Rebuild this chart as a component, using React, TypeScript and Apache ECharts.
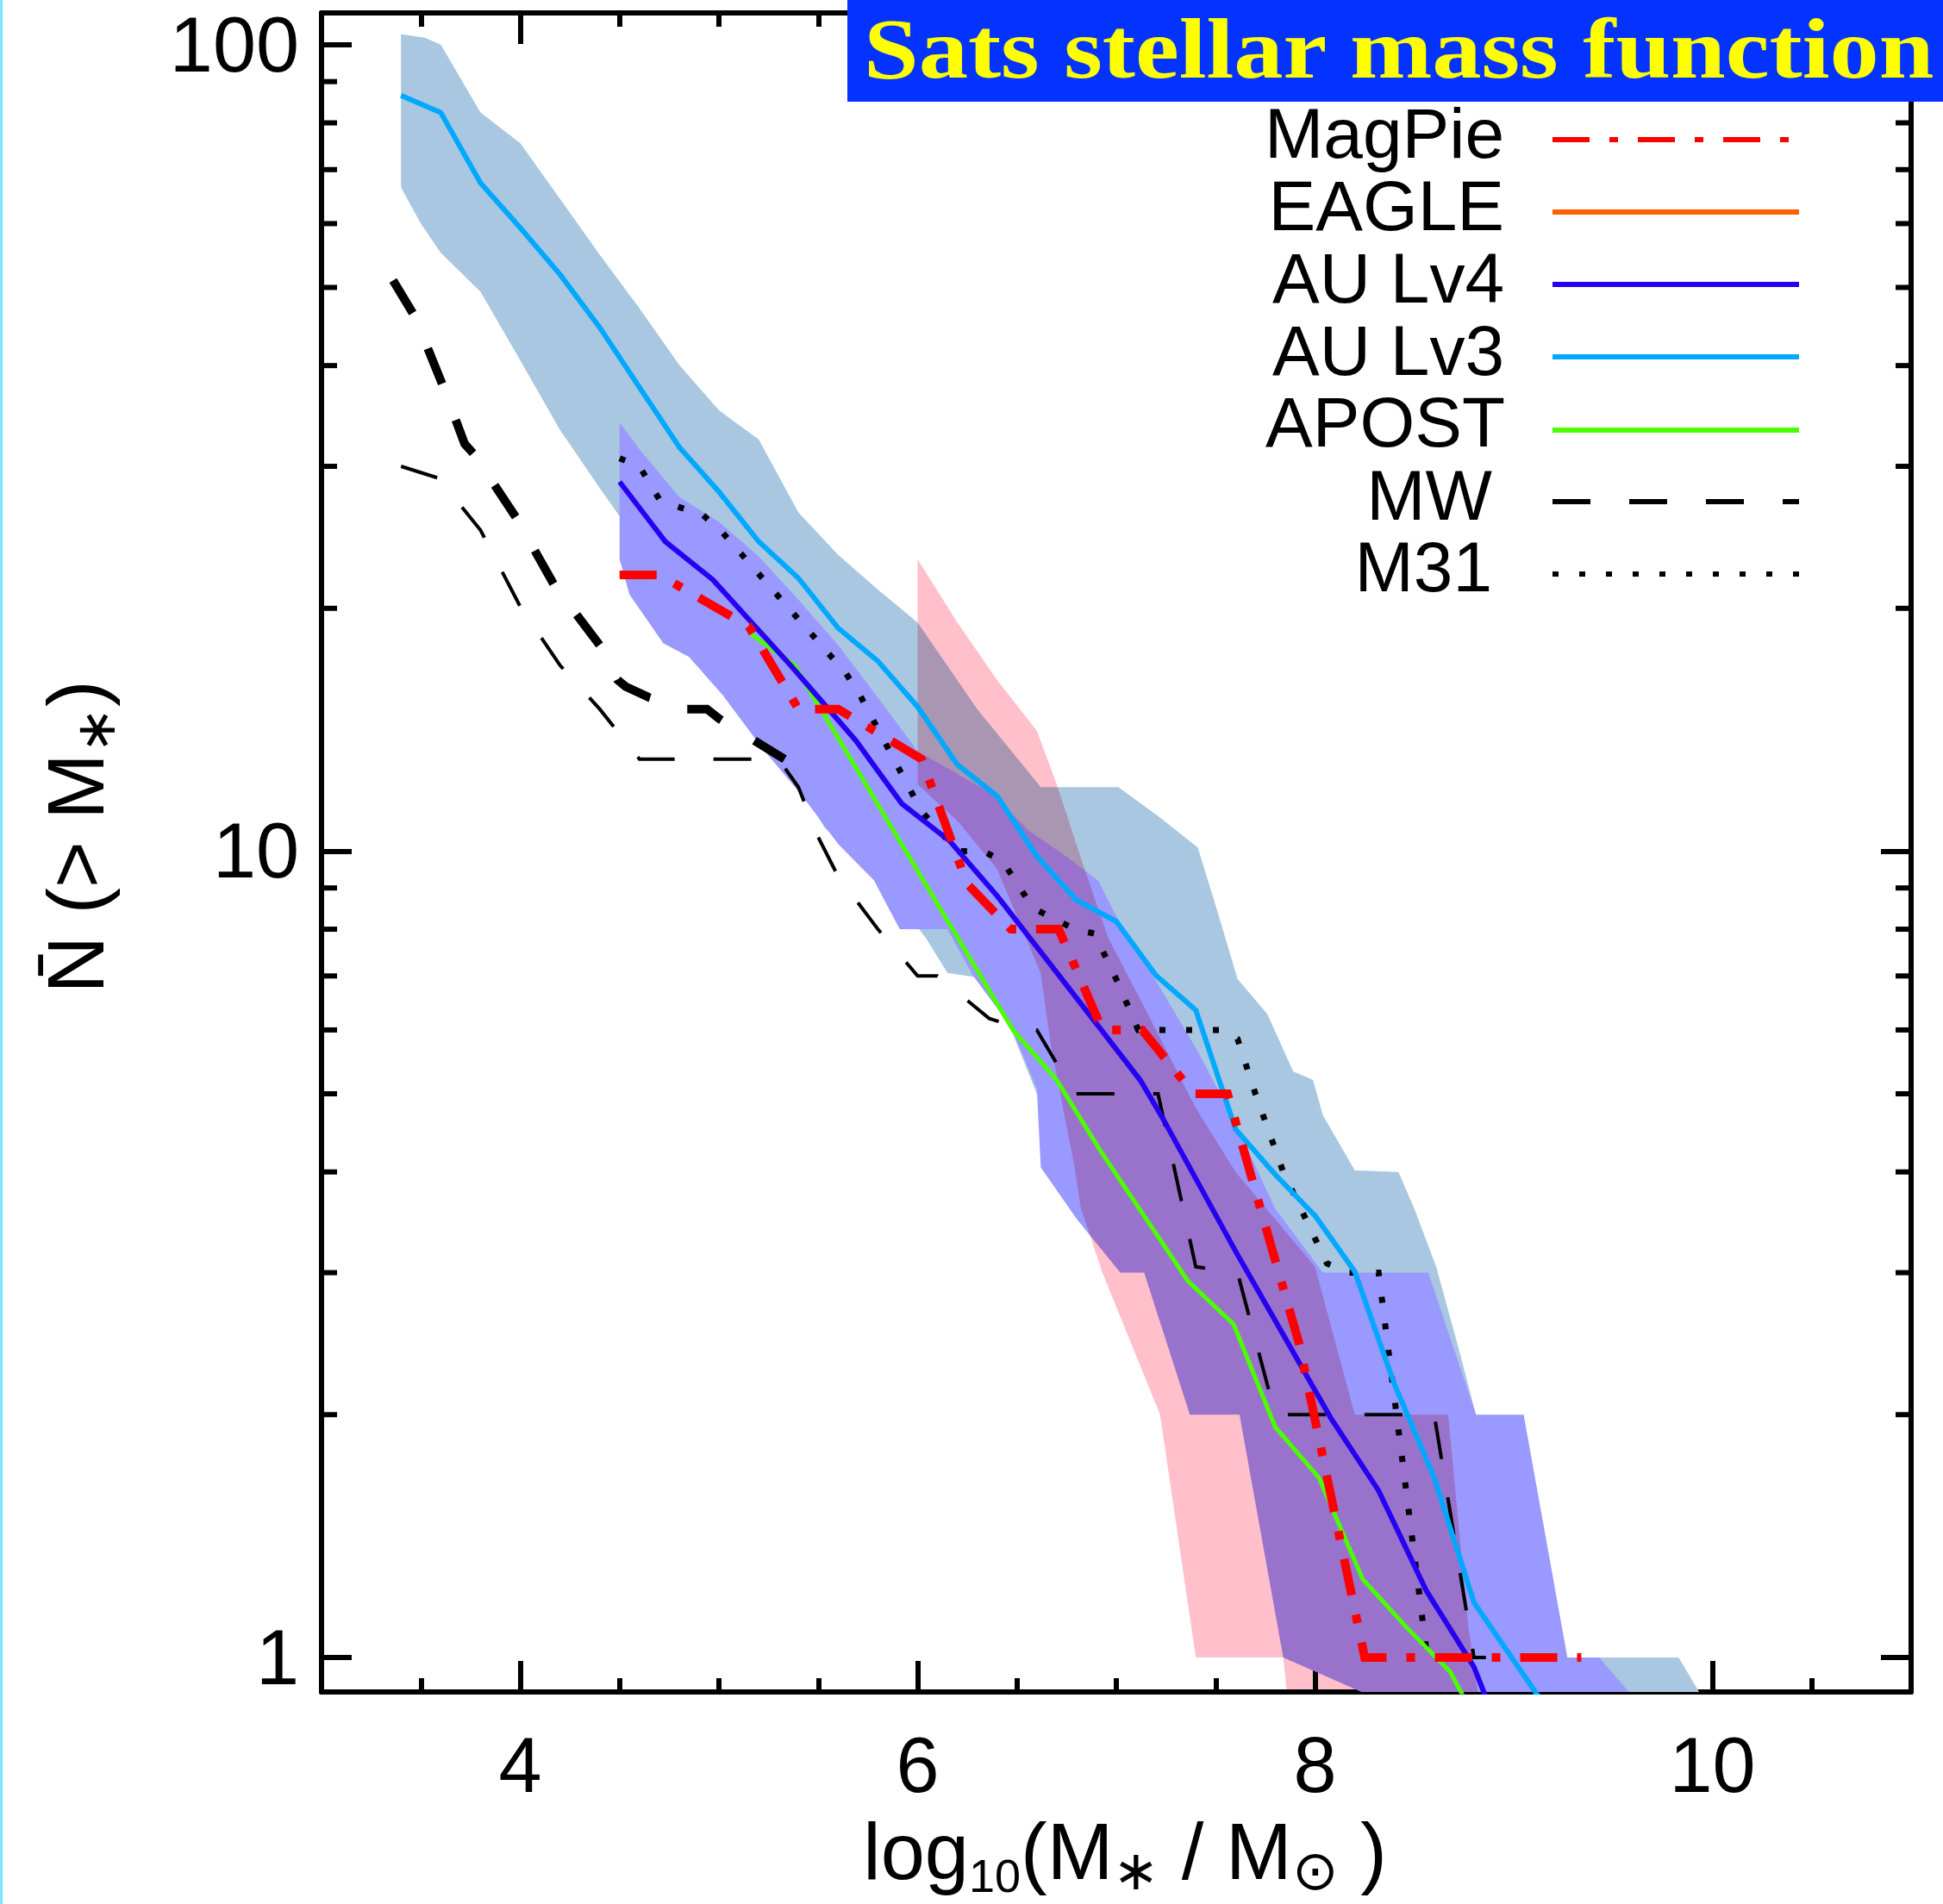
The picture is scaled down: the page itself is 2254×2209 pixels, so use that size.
import React, { useEffect, useRef } from 'react';
import * as echarts from 'echarts';

// ------------------------------------------------------------------ data
const X_MIN = 3;
const X_MAX = 11;
const Y_MIN = 0.906;
const Y_MAX = 109.5;
const X_TICK_LABELS = [4, 6, 8, 10];
const Y_TICK_LABELS = [1, 10, 100];
const Y_MINOR_TICKS = [2, 3, 4, 5, 6, 7, 8, 9, 20, 30, 40, 50, 60, 70, 80, 90];

const TITLE = 'Sats stellar mass function';
const LEGEND_NAMES = ['MagPie', 'EAGLE', 'AU Lv4', 'AU Lv3', 'APOST', 'MW', 'M31'];

// AU Lv3 scatter band
const AU3_BAND_HI = [
  [3.4, 103], [3.52, 102], [3.6, 100], [3.8, 82.4], [4.0, 75.5], [4.2, 64.4], [4.4, 54.9],
  [4.6, 47.1], [4.8, 40.1], [5.0, 35.2], [5.2, 32.4], [5.4, 26.3], [5.6, 23.3], [5.8, 21.1],
  [6.0, 19.2], [6.3, 15.0], [6.62, 12.0], [7.01, 12.0], [7.21, 11.05], [7.41, 10.1],
  [7.51, 8.4], [7.61, 6.94], [7.76, 6.28], [7.89, 5.33], [7.99, 5.2], [8.04, 4.7],
  [8.2, 4.02], [8.42, 4.0], [8.5, 3.6], [8.61, 3.05], [8.73, 2.38], [8.81, 2.0],
  [9.2, 1.0], [9.83, 1.0], [10.0, 0.85],
];
const AU3_BAND_LO = [
  [3.4, 66.5], [3.5, 60], [3.6, 55.2], [3.8, 49.4], [4.0, 40.6], [4.2, 33.3], [4.4, 28.2],
  [4.6, 24], [4.8, 20.5], [5.0, 17.5], [5.2, 15], [5.53, 10.7], [5.78, 9.43], [6.04, 7.81],
  [6.15, 7.06], [6.37, 6.93], [6.6, 5.0], [6.8, 4.2], [7.0, 3.5], [7.2, 3.0], [7.4, 2.5],
  [7.6, 2.1], [7.8, 1.7], [8.0, 1.4], [8.2, 1.1], [8.4, 0.9], [8.6, 0.7], [10.0, 0.5],
];

// AU Lv4 scatter band
const AU4_BAND_HI = [
  [4.5, 34], [4.6, 31.5], [4.8, 27.5], [5.0, 25.6], [5.2, 23.2], [5.4, 20.5], [5.6, 18],
  [5.8, 15.5], [6.0, 13.3], [6.37, 11.8], [6.56, 10.6], [6.76, 9.8], [6.91, 9.18],
  [7.0, 8.3], [7.2, 6.9], [7.4, 5.7], [7.6, 4.6], [7.8, 3.6], [8.04, 3.0], [8.57, 3.0],
  [8.81, 2.0], [9.05, 2.0], [9.27, 1.0], [9.43, 1.0], [9.59, 0.9], [9.7, 0.8],
];
const AU4_BAND_LO = [
  [4.5, 23.0], [4.55, 20.8], [4.72, 18.1], [4.85, 17.4], [5.02, 15.6], [5.22, 13.4],
  [5.42, 11.7], [5.6, 10.2], [5.78, 9.2], [5.91, 8.0], [6.15, 8.0], [6.28, 7.0],
  [6.47, 6.05], [6.6, 5.07], [6.62, 4.05], [6.8, 3.5], [7.02, 3.0], [7.14, 3.0],
  [7.37, 2.0], [7.62, 2.0], [7.84, 1.0], [8.35, 0.88], [9.7, 0.5],
];

// pink scatter band
const PINK_BAND_HI = [
  [6.0, 23], [6.2, 19.2], [6.4, 16.3], [6.6, 14.1], [6.7, 12.1], [6.84, 9.5], [6.96, 7.8],
  [7.2, 6.0], [7.4, 4.8], [7.6, 4.0], [8.0, 3.05], [8.2, 2.0], [8.67, 2.0], [8.77, 1.1],
  [8.85, 0.8],
];
const PINK_BAND_LO = [
  [6.0, 12.1], [6.2, 10.9], [6.4, 9.5], [6.62, 7.05], [6.67, 5.75], [6.79, 4.05],
  [6.82, 3.62], [6.93, 3.0], [7.22, 2.0], [7.40, 1.0], [7.84, 1.0], [7.87, 0.85],
];

const MAGPIE_LINE = [
  [4.5, 22], [4.7, 22], [5.15, 19.0], [5.4, 15.0], [5.6, 15.0], [6.02, 13.0], [6.25, 9.1],
  [6.47, 8.0], [6.71, 8.0], [6.93, 6.0], [7.13, 6.0], [7.39, 5.0], [7.56, 5.0],
  [7.92, 2.45], [8.25, 1.0], [9.34, 1.0],
];
const AU4_LINE = [
  [4.5, 28.7], [4.73, 24.2], [4.97, 21.7], [5.14, 19.5], [5.36, 17.0], [5.69, 13.7],
  [5.92, 11.45], [6.16, 10.3], [6.4, 8.8], [6.66, 7.28], [7.12, 5.2], [7.23, 4.68],
  [7.6, 3.19], [8.08, 1.98], [8.32, 1.61], [8.56, 1.21], [8.8, 0.973], [9.0, 0.73],
];
const AU3_LINE = [
  [3.4, 86.5], [3.6, 82.4], [3.8, 67.4], [4.0, 59.3], [4.2, 51.9], [4.4, 44.6], [4.6, 37.6],
  [4.8, 31.7], [5.0, 27.9], [5.2, 24.2], [5.4, 21.8], [5.6, 18.9], [5.8, 17.2], [6.0, 15.1],
  [6.2, 12.8], [6.4, 11.7], [6.6, 9.85], [6.8, 8.69], [7.0, 8.18], [7.2, 7.01], [7.4, 6.35],
  [7.6, 4.52], [7.8, 3.97], [8.0, 3.53], [8.2, 3.01], [8.4, 2.18], [8.6, 1.67], [8.8, 1.17],
  [9.2, 0.84],
];
const APOST_LINE = [
  [5.16, 18.6], [5.38, 17.0], [6.48, 6.0], [6.7, 5.2], [6.92, 4.25], [7.36, 2.93],
  [7.59, 2.59], [7.8, 1.93], [8.02, 1.67], [8.24, 1.25], [8.46, 1.09], [8.68, 0.96],
  [8.9, 0.76],
];
const MW_LINE = [
  [3.4, 30], [3.59, 29], [3.8, 25], [4.0, 20.1], [4.2, 17.0], [4.4, 15.0], [4.6, 13.0],
  [5.3, 13.0], [5.4, 12.0], [5.5, 10.4], [5.6, 9.3], [5.8, 8.0], [6.0, 7.0], [6.1, 7.0],
  [6.36, 6.2], [6.54, 6.0], [6.6, 6.0], [6.79, 5.0], [7.21, 5.0], [7.4, 3.05], [7.61, 3.0],
  [7.8, 2.0], [8.6, 2.0], [8.8, 1.0], [8.86, 1.0],
];
const MW_THICK_LINE = [
  [3.36, 51], [3.47, 46], [3.61, 37.8], [3.72, 32], [3.77, 31], [3.98, 25.9], [4.17, 21.4],
  [4.28, 19.7], [4.4, 18.0], [4.49, 16.3], [4.53, 16.0], [4.65, 15.5], [4.84, 15.0],
  [4.94, 15.0], [5.0, 14.6], [5.33, 13.0],
];
const M31_LINE = [
  [4.5, 30.7], [4.6, 30.0], [4.7, 27.3], [4.8, 26.7], [4.92, 26.1], [5.02, 24.8],
  [5.64, 16.6], [5.71, 15.6], [6.02, 11.2], [6.2, 10.0], [6.33, 10.0], [6.43, 9.7],
  [6.58, 8.5], [6.79, 8.0], [6.89, 7.9], [7.01, 6.85], [7.11, 6.0], [7.54, 6.0],
  [7.61, 5.85], [7.7, 5.0], [7.84, 4.0], [8.06, 3.08], [8.17, 3.0], [8.32, 3.0],
  [8.565, 1.0], [8.62, 1.0],
];

// ------------------------------------------------------------------ styles
const W = 2254;
const H = 2209;
const SANS = '"Liberation Sans", Arial, Helvetica, sans-serif';
const SERIF = '"Liberation Serif", "Times New Roman", serif';
const CENTRAL = 0.3465;

const C_RED = '#ff0000';
const C_ORANGE = '#ff6000';
const C_LV4 = '#2600f0';
const C_LV3 = '#00a8ff';
const C_GREEN = '#4cff00';
const C_BAND3 = '#a9c7e1';
const C_BAND4 = '#9999ff';
const C_PINK = '#ffc0cb';

const DASH_DOT = [43, 23, 10, 23];
const DASH = [44, 45];
const DOT = [7, 24];

const LEGEND_STYLE = [
  { color: C_RED, dash: DASH_DOT },
  { color: C_ORANGE, dash: null },
  { color: C_LV4, dash: null },
  { color: C_LV3, dash: null },
  { color: C_GREEN, dash: null },
  { color: '#000', dash: DASH },
  { color: '#000', dash: DOT },
];

function measure(text: string, size: number, family: string = SANS, weight = 'normal') {
  const ctx = document.createElement('canvas').getContext('2d') as CanvasRenderingContext2D;
  ctx.font = `${weight} ${size}px ${family}`;
  return ctx.measureText(text).width;
}

type Piece = { t?: string; s: number; d?: number; gap?: boolean; lh?: number };

function layoutPieces(pieces: Piece[], baseline: number) {
  let total = 0;
  const widths = pieces.map((p) => {
    const w = p.gap ? measure(' ', p.s) : measure(p.t as string, p.s);
    total += w;
    return w;
  });
  let cur = -total / 2;
  const out: any[] = [];
  pieces.forEach((p, i) => {
    if (!p.gap) {
      out.push({
        type: 'text',
        x: cur,
        y: baseline + (p.d || 0) - CENTRAL * p.s,
        style: {
          text: p.t,
          fontSize: p.s,
          fontFamily: SANS,
          lineHeight: p.lh || p.s,
          fill: '#000',
          align: 'left',
          textAlign: 'left',
          verticalAlign: 'middle',
          textVerticalAlign: 'middle',
        },
      });
    }
    cur += widths[i];
  });
  return out;
}

function bandSeries(name: string, hi: number[][], lo: number[][], color: string, z: number) {
  return {
    type: 'custom',
    name,
    coordinateSystem: 'cartesian2d',
    xAxisIndex: 0,
    yAxisIndex: 0,
    clip: true,
    silent: true,
    z,
    data: hi.concat(lo),
    encode: { x: 0, y: 1 },
    renderItem: (params: any, api: any) => {
      if (params.dataIndex !== 0) return null;
      const pts = hi.map((p) => api.coord(p)).concat(lo.slice().reverse().map((p) => api.coord(p)));
      return { type: 'polygon', shape: { points: pts }, style: { fill: color, stroke: null } };
    },
  };
}

function lineSeries(name: string, data: number[][], color: string, width: number, type: any, z: number) {
  return {
    type: 'line',
    name,
    data,
    xAxisIndex: 0,
    yAxisIndex: 0,
    showSymbol: false,
    symbol: 'none',
    clip: true,
    silent: true,
    z,
    lineStyle: { color, width, type, cap: 'butt', join: 'miter' },
  };
}

function buildOption() {
  const axisLineStyle = { color: '#000', width: 6 };
  const xBase = (pos: string, labels: boolean) => ({
    type: 'value',
    min: X_MIN,
    max: X_MAX,
    splitNumber: 4,
    position: pos,
    axisLine: { show: true, onZero: false, lineStyle: axisLineStyle },
    axisTick: { show: true, inside: true, length: 36, lineStyle: { color: '#000', width: 6 } },
    minorTick: { show: true, splitNumber: 4, length: 16, lineStyle: { color: '#000', width: 6 } },
    splitLine: { show: false },
    minorSplitLine: { show: false },
    axisLabel: {
      show: labels,
      margin: 40,
      fontSize: 90,
      fontFamily: SANS,
      color: '#000',
      showMinLabel: false,
      showMaxLabel: false,
      formatter: (v: number) => (X_TICK_LABELS.indexOf(Math.round(v)) >= 0 && Math.abs(v - Math.round(v)) < 1e-6 ? String(Math.round(v)) : ''),
    },
  });
  const yBase = (pos: string, labels: boolean) => ({
    type: 'log',
    logBase: 10,
    min: Y_MIN,
    max: Y_MAX,
    position: pos,
    axisLine: { show: true, onZero: false, lineStyle: axisLineStyle },
    axisTick: { show: true, inside: true, length: 35, lineStyle: { color: '#000', width: 6 } },
    minorTick: { show: false },
    splitLine: { show: false },
    axisLabel: {
      show: labels,
      margin: 26,
      fontSize: 90,
      fontFamily: SANS,
      color: '#000',
      showMinLabel: false,
      showMaxLabel: false,
      formatter: (v: number) => {
        const r = Math.round(v);
        return Y_TICK_LABELS.indexOf(r) >= 0 && Math.abs(v - r) < 1e-6 ? String(r) : '';
      },
    },
  });

  const minorTickSeries = {
    type: 'custom',
    name: 'yminor',
    coordinateSystem: 'cartesian2d',
    xAxisIndex: 0,
    yAxisIndex: 0,
    silent: true,
    clip: false,
    z: 20,
    data: Y_MINOR_TICKS.map((v) => [X_MIN, v]),
    encode: { x: 0, y: 1 },
    renderItem: (params: any, api: any) => {
      const v = api.value(1);
      const l = api.coord([X_MIN, v]);
      const r = api.coord([X_MAX, v]);
      return {
        type: 'group',
        children: [
          { type: 'line', shape: { x1: l[0], y1: l[1], x2: l[0] + 18, y2: l[1] }, style: { stroke: '#000', lineWidth: 6 } },
          { type: 'line', shape: { x1: r[0] - 18, y1: r[1], x2: r[0], y2: r[1] }, style: { stroke: '#000', lineWidth: 6 } },
        ],
      };
    },
  };

  // ---------- graphic: title, legend, axis names
  const graphic: any[] = [];
  graphic.push({ type: 'rect', z: 100, shape: { x: 0, y: 0, width: 3, height: H }, style: { fill: '#7fe3ff' } });
  graphic.push({ type: 'rect', z: 100, shape: { x: 983, y: 0, width: W - 983, height: 118 }, style: { fill: '#0433ff' } });
  const TITLE_SIZE = 100;
  const titleW = measure(TITLE, TITLE_SIZE, SERIF, 'bold');
  const titleScale = (2246 - 1002) / titleW;
  const titleBaseline = 89.5;
  graphic.push({
    type: 'text',
    z: 101,
    x: 1002,
    y: titleBaseline - 0.3375 * TITLE_SIZE,
    scaleX: titleScale,
    style: {
      text: TITLE,
      fontSize: TITLE_SIZE,
      lineHeight: 96,
      fontFamily: SERIF,
      fontWeight: 'bold',
      fill: '#ffff00',
      align: 'left',
      textAlign: 'left',
      verticalAlign: 'middle',
      textVerticalAlign: 'middle',
    },
  });

  const legLineY = [162, 246, 330, 414, 499, 582, 666];
  const legTextY = [154, 238, 322, 406, 489, 574, 657];
  const legTextX = [1745, 1745, 1745, 1745, 1746, 1731, 1731];
  LEGEND_NAMES.forEach((name, i) => {
    graphic.push({
      type: 'text',
      z: 101,
      x: legTextX[i],
      y: legTextY[i],
      style: {
        text: name,
        fontSize: 82,
        fontFamily: SANS,
        fill: '#000',
        align: 'right',
        textAlign: 'right',
        verticalAlign: 'middle',
        textVerticalAlign: 'middle',
      },
    });
    const st = LEGEND_STYLE[i];
    graphic.push({
      type: 'line',
      z: 101,
      shape: { x1: 1801, y1: legLineY[i], x2: 2087, y2: legLineY[i] },
      style: { stroke: st.color, lineWidth: 6, lineDash: st.dash || undefined, lineCap: 'butt' },
    });
  });

  // x axis title
  const xPieces: Piece[] = [
    { t: 'log', s: 92 },
    { t: '10', s: 54, d: 15, lh: 44 },
    { t: '(M', s: 92 },
    { t: '\u2217', s: 64, d: 12, lh: 40 },
    { gap: true, s: 92 },
    { t: '/', s: 92 },
    { gap: true, s: 92 },
    { t: 'M', s: 92 },
    { t: '\u2299', s: 64, d: 12, lh: 40 },
    { gap: true, s: 92 },
    { t: ')', s: 92 },
  ];
  graphic.push({ type: 'group', z: 101, x: 1305, y: 0, children: layoutPieces(xPieces, 2180) });

  // y axis title (rotated)
  const yPieces: Piece[] = [
    { t: 'N\u0304', s: 92 },
    { gap: true, s: 92 },
    { t: '(>', s: 92 },
    { gap: true, s: 92 },
    { t: 'M', s: 92 },
    { t: '\u2217', s: 64, d: 13 },
    { t: ')', s: 92 },
  ];
  graphic.push({ type: 'group', z: 101, x: 120, y: 971, rotation: Math.PI / 2, children: layoutPieces(yPieces, 0) });

  return {
    animation: false,
    backgroundColor: '#ffffff',
    grid: { left: 373, right: 37, top: 15, bottom: 246, containLabel: false },
    xAxis: [xBase('bottom', true), xBase('top', false)],
    yAxis: [yBase('left', true), yBase('right', false)],
    series: [
      bandSeries('AU Lv3 band', AU3_BAND_HI, AU3_BAND_LO, C_BAND3, 1),
      bandSeries('AU Lv4 band', AU4_BAND_HI, AU4_BAND_LO, C_BAND4, 2),
      bandSeries('pink band', PINK_BAND_HI, PINK_BAND_LO, C_PINK, 3),
      lineSeries('MW', MW_LINE, '#000', 4, DASH, 5),
      lineSeries('MW thick', MW_THICK_LINE, '#000', 10, DASH, 5),
      lineSeries('M31', M31_LINE, '#000', 7, DOT, 6),
      lineSeries('APOST', APOST_LINE, C_GREEN, 5, 'solid', 7),
      lineSeries('AU Lv4', AU4_LINE, C_LV4, 6, 'solid', 8),
      lineSeries('AU Lv3', AU3_LINE, C_LV3, 6, 'solid', 9),
      lineSeries('EAGLE', [], C_ORANGE, 6, 'solid', 9),
      lineSeries('MagPie', MAGPIE_LINE, C_RED, 10, DASH_DOT, 10),
      minorTickSeries,
    ],
    graphic,
  };
}

function applyBlend(root: HTMLElement) {
  const paths = root.querySelectorAll('path');
  paths.forEach((p) => {
    const f = (p.getAttribute('fill') || '').replace(/\s+/g, '').toLowerCase();
    if (f === '#ffc0cb' || f === 'rgb(255,192,203)' || f === 'rgba(255,192,203,1)' || f === 'pink') {
      (p as any).style.mixBlendMode = 'multiply';
      let g = p.parentElement;
      while (g && g.tagName.toLowerCase() !== 'svg') {
        if (g.hasAttribute('clip-path')) (g as any).style.mixBlendMode = 'multiply';
        g = g.parentElement;
      }
    }
  });
}

export default function App() {
  const ref = useRef<HTMLDivElement>(null);
  useEffect(() => {
    const el = ref.current as HTMLDivElement;
    const chart = echarts.init(el, null, { renderer: 'svg', width: W, height: H });
    chart.setOption(buildOption() as any);
    applyBlend(el);
    chart.on('finished', () => applyBlend(el));
    return () => chart.dispose();
  }, []);
  return <div ref={ref} style={{ position: 'absolute', left: 0, top: 0, width: W, height: H }} />;
}
